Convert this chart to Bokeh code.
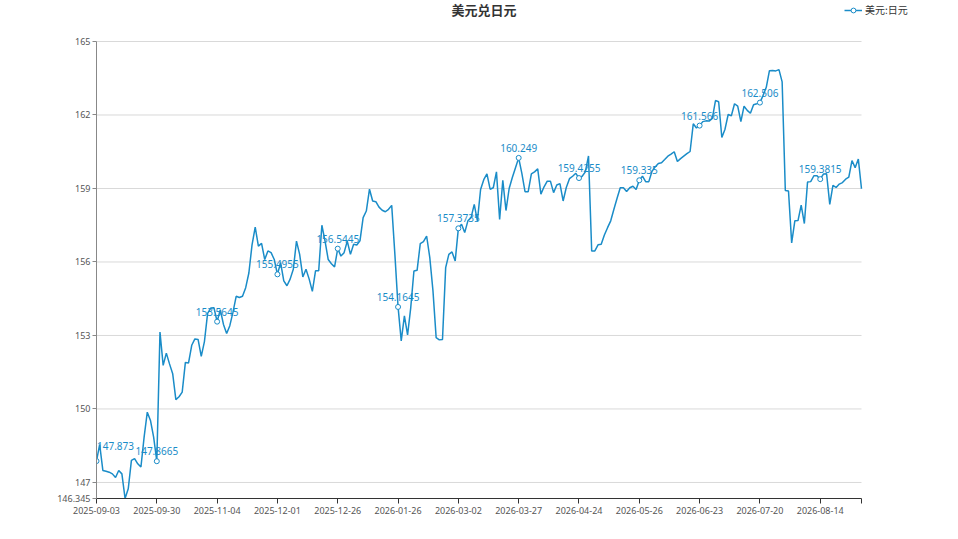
from bokeh.plotting import figure
from bokeh.models import Range1d, FixedTicker, Label, LabelSet, Legend, LegendItem, ColumnDataSource
from bokeh.core.properties import value
from bokeh.embed import file_html
from bokeh.resources import INLINE

title_text = "美元兑日元"
series_name = "美元:日元"

tick_labels = ["2025-09-03", "2025-09-30", "2025-11-04", "2025-12-01", "2025-12-26",
               "2026-01-26", "2026-03-02", "2026-03-27", "2026-04-24", "2026-05-26",
               "2026-06-23", "2026-07-20", "2026-08-14"]
label_step = 19

y_ticks = [146.345, 147, 150, 153, 156, 159, 162, 165]

rate = [
    147.873, 148.55, 147.49, 147.46, 147.42, 147.35, 147.2, 147.49, 147.35, 146.345,
    146.74, 147.9, 147.97, 147.76, 147.63, 148.85, 149.87, 149.53, 148.85, 147.8665,
    153.14, 151.78, 152.28, 151.84, 151.44, 150.38, 150.5, 150.69, 151.9, 151.88,
    152.6, 152.86, 152.84, 152.15, 152.75, 153.9, 154.12, 154.13, 153.5645, 154.05,
    153.45, 153.08, 153.4, 153.95, 154.6, 154.55, 154.6, 154.95, 155.55, 156.7,
    157.42, 156.65, 156.76, 156.1, 156.45, 156.38, 156.1, 155.4955, 155.97, 155.23,
    155.03, 155.3, 155.7, 156.85, 156.31, 155.39, 155.7, 155.3, 154.8, 155.64,
    155.64, 157.5, 156.85, 156.1, 155.93, 155.8, 156.5445, 156.24, 156.38, 156.85,
    156.31, 156.72, 156.69, 156.86, 157.81, 158.08, 158.97, 158.49, 158.46, 158.24,
    158.11, 158.05, 158.15, 158.31, 156.31, 154.1645, 152.78, 153.8, 153.02, 154.14,
    155.63, 155.66, 156.75, 156.83, 157.06, 156.18, 154.82, 152.91, 152.82, 152.84,
    155.77, 156.31, 156.41, 156.04, 157.3735, 157.54, 157.2, 157.68, 157.81, 158.35,
    157.68, 158.96, 159.36, 159.6, 158.97, 159.03, 159.68, 157.74, 159.33, 158.1,
    159.0, 159.45, 159.85, 160.249, 159.62, 158.87, 158.87, 159.6, 159.68, 159.8,
    158.77, 159.07, 159.3, 159.3, 158.83, 159.14, 159.2, 158.49, 159.04, 159.4,
    159.5, 159.62, 159.4255, 159.5, 159.68, 160.33, 156.45, 156.45, 156.7, 156.72,
    157.1, 157.4, 157.68, 158.15, 158.6, 159.03, 159.03, 158.88, 159.03, 159.09,
    158.96, 159.335, 159.5, 159.28, 159.28, 159.7, 159.88, 160.02, 160.05, 160.18,
    160.32, 160.4, 160.5, 160.1, 160.22, 160.32, 160.42, 160.51, 161.64, 161.47,
    161.566, 161.73, 161.76, 161.75, 161.86, 162.59, 162.54, 161.08, 161.42, 162.02,
    161.97, 162.46, 162.36, 161.73, 162.36, 162.19, 162.07, 162.42, 162.46, 162.506,
    162.8, 163.13, 163.81, 163.82, 163.8, 163.85, 163.35, 158.92, 158.9, 156.78,
    157.68, 157.69, 158.32, 157.57, 159.26, 159.28, 159.52, 159.52, 159.3815, 159.59,
    159.6, 158.35, 159.13, 159.04, 159.18, 159.24, 159.38, 159.46, 160.14, 159.85,
    160.2, 158.99,
]

COLOR = "#1a8cc8"
NUM_FONT = "Noto Sans"
CJK_FONT = "Noto Sans CJK SC"

n = len(rate)
idx = list(range(n))
tick_pos = [i * label_step for i in range(len(tick_labels))]
mark_idx = tick_pos
mark_val = [rate[i] for i in mark_idx]
mark_txt = [str(v) for v in mark_val]

# layout (pixels)
W, H = 958, 539
BL, BB = 96, 41
PLOT_TOP = 41            # pixel row of the top (165) line
PLOT_RIGHT = 861         # pixel column of the last category
frame_w = W - BL         # frame runs to the right edge of the canvas
frame_h = H - BB         # and to the top edge
y_lo, y_hi = y_ticks[0], y_ticks[-1]
py_per_unit = (frame_h - PLOT_TOP) / (y_hi - y_lo)
y_top = y_hi + PLOT_TOP / py_per_unit
px_per_idx = (PLOT_RIGHT - BL) / (n - 1)
x_right = frame_w / px_per_idx

p = figure(width=W, height=H, output_backend="svg", toolbar_location=None,
           x_range=Range1d(0, x_right), y_range=Range1d(y_lo, y_top),
           min_border_left=BL, min_border_right=0, min_border_top=0, min_border_bottom=BB,
           background_fill_color="white", border_fill_color="white")
p.outline_line_color = None

# horizontal grid lines limited to the plotting span
p.xgrid.grid_line_color = None
p.ygrid.grid_line_color = None
grid_y = y_ticks[1:]
p.segment(x0=[0] * len(grid_y), x1=[n - 1] * len(grid_y), y0=grid_y, y1=grid_y,
          line_color="#d9d9d9", line_width=1)

line_r = p.line(idx, rate, line_color=COLOR, line_width=1.5)
pts_r = p.scatter(mark_idx, mark_val, marker="circle", size=5, fill_color="white",
                  line_color=COLOR, line_width=1)

# first label would be clipped at the frame edge; nudge it inside
x_off = [19 if i == 0 else 0 for i in range(len(mark_idx))]
y_off = [11 if i == 0 else 6 for i in range(len(mark_idx))]
src = ColumnDataSource(dict(x=mark_idx, y=mark_val, t=mark_txt, xo=x_off, yo=y_off))
p.add_layout(LabelSet(x="x", y="y", text="t", source=src, x_offset="xo", y_offset="yo",
                      text_align="center", text_baseline="bottom", text_color=COLOR,
                      text_font_size="10px", text_font=value(NUM_FONT)))

# axes
p.xaxis.ticker = FixedTicker(ticks=tick_pos + [n - 1])
p.xaxis.bounds = (0, n - 1)
overrides = {tp: lab for tp, lab in zip(tick_pos, tick_labels)}
overrides[n - 1] = ""
p.xaxis.major_label_overrides = overrides
p.xaxis.minor_tick_line_color = None
p.xaxis.axis_line_color = "#333333"
p.xaxis.major_tick_line_color = "#333333"
p.xaxis.major_tick_out = 5
p.xaxis.major_tick_in = 0
p.xaxis.major_label_text_font = NUM_FONT
p.xaxis.major_label_text_font_size = "9px"
p.xaxis.major_label_text_color = "#555555"
p.xaxis.major_label_standoff = 3

p.yaxis.ticker = FixedTicker(ticks=y_ticks)
p.yaxis.bounds = (y_lo, y_hi)
p.yaxis.major_label_overrides = {t: (str(t) if t != int(t) else str(int(t))) for t in y_ticks}
p.yaxis.minor_tick_line_color = None
p.yaxis.axis_line_color = "#888888"
p.yaxis.major_tick_line_color = "#888888"
p.yaxis.major_tick_out = 4
p.yaxis.major_tick_in = 0
p.yaxis.major_label_text_font = NUM_FONT
p.yaxis.major_label_text_font_size = "9px"
p.yaxis.major_label_text_color = "#555555"
p.yaxis.major_label_standoff = 2

# title (inside the extended frame, above the plotting area)
p.add_layout(Label(x=(PLOT_RIGHT - BL) / 2 + 5, y=frame_h - 9, x_units="screen", y_units="screen",
                   text=title_text, text_align="center", text_baseline="middle",
                   text_font=CJK_FONT, text_font_size="13px", text_font_style="bold",
                   text_color="#333333"))

legend = Legend(items=[LegendItem(label=series_name, renderers=[line_r, pts_r])],
                location=(843 - BL, frame_h - 18), orientation="horizontal",
                border_line_alpha=0, background_fill_alpha=0, margin=0, padding=1,
                glyph_width=18, glyph_height=12, label_standoff=3, label_height=12,
                label_text_font=CJK_FONT, label_text_font_size="10px",
                label_text_color="#333333", label_text_baseline="middle")
p.add_layout(legend, "center")

open("out.html", "w").write(file_html(p, INLINE))
